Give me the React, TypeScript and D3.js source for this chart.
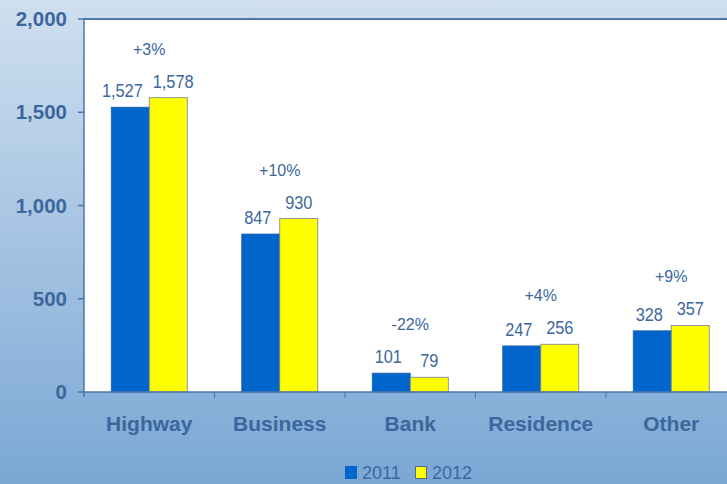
import React from "react";
import * as d3 from "d3";

const categories = ["Highway", "Business", "Bank", "Residence", "Other"];
const series2011 = [1527, 847, 101, 247, 328];
const series2012 = [1578, 930, 79, 256, 357];
const changeLabels = ["+3%", "+10%", "-22%", "+4%", "+9%"];
const yTicks = [0, 500, 1000, 1500, 2000];
const seriesNames = ["2011", "2012"];

const W = 727;
const H = 484;
const left = 84;
const top = 19;
const bottom = 392;
const plotRight = 736.5;

const textColor = "#3c679c";
const axisColor = "#4a76ad";
const blue = "#0066cc";
const yellow = "#ffff00";

const valFont = 19;
const valScaleX = 0.86;
// approx width of a value label (Liberation Sans metrics, condensed)
function labelWidth(s: string) {
  let w = 0;
  for (const ch of s) w += ch === "," ? 0.278 : 0.556;
  return w * valFont * valScaleX;
}

export default function App() {
  const x = d3.scaleBand<string>().domain(categories).range([left, plotRight]).paddingInner(0).paddingOuter(0);
  const y = d3.scaleLinear().domain([0, 2000]).range([bottom, top]);
  const barW = 38;
  const fmt = d3.format(",");

  return (
    <svg
      width={W}
      height={H}
      style={{ position: "fixed", left: 0, top: 0, display: "block" }}
      fontFamily="'Liberation Sans', Arial, sans-serif"
    >
      <defs>
        <linearGradient id="bg" x1="0" y1="0" x2="0" y2="1">
          <stop offset="0" stopColor="#cfdfef" />
          <stop offset="1" stopColor="#7ba7d5" />
        </linearGradient>
      </defs>
      <rect x={0} y={0} width={W} height={H} fill="url(#bg)" />
      <rect x={left} y={top} width={plotRight - left} height={bottom - top} fill="#ffffff" />
      <line x1={left} x2={W} y1={top} y2={top} stroke={axisColor} strokeWidth={2} />

      {categories.map((c, i) => {
        const cx = (x(c) as number) + x.bandwidth() / 2;
        const v1 = series2011[i];
        const v2 = series2012[i];
        const x1 = cx - barW;
        const x2 = cx;
        const maxTop = Math.min(y(v1), y(v2));
        const s1 = fmt(v1);
        const s2 = fmt(v2);
        let c1 = x1 + barW / 2 - 3;
        let c2 = x2 + barW / 2;
        const need = (labelWidth(s1) + labelWidth(s2)) / 2 + 10;
        if (c2 - c1 < need) {
          const d = (need - (c2 - c1)) / 2;
          c1 -= d;
          c2 += d;
        }
        return (
          <g key={c}>
            <rect x={x1} y={y(v1)} width={barW} height={bottom - y(v1)} fill={blue} stroke="#1f5fa8" strokeWidth={0.8} />
            <rect x={x2} y={y(v2)} width={barW} height={bottom - y(v2)} fill={yellow} stroke="#6f7f95" strokeWidth={0.8} />
            <text
              transform={`translate(${c1},${y(v1) - 10}) scale(${valScaleX},1)`}
              textAnchor="middle"
              fontSize={valFont}
              fill={textColor}
            >
              {s1}
            </text>
            <text
              transform={`translate(${c2},${y(v2) - 10}) scale(${valScaleX},1)`}
              textAnchor="middle"
              fontSize={valFont}
              fill={textColor}
            >
              {s2}
            </text>
            <text x={cx} y={maxTop - 43} textAnchor="middle" fontSize={16} fill={textColor}>
              {changeLabels[i]}
            </text>
            <text x={cx} y={431} textAnchor="middle" fontSize={21} fontWeight="bold" fill={textColor}>
              {c}
            </text>
          </g>
        );
      })}

      {/* y axis */}
      <line x1={left} x2={left} y1={top} y2={bottom + 5} stroke={axisColor} strokeWidth={1.5} />
      {yTicks.map((t) => (
        <g key={t}>
          <line x1={left - 6} x2={left} y1={y(t)} y2={y(t)} stroke={axisColor} strokeWidth={1.5} />
          <text x={67} y={y(t) + 7} textAnchor="end" fontSize={20.5} fontWeight="bold" fill={textColor}>
            {fmt(t)}
          </text>
        </g>
      ))}
      {/* x axis */}
      <line x1={left} x2={W} y1={bottom} y2={bottom} stroke={axisColor} strokeWidth={1.5} />
      {categories.slice(1).map((c) => (
        <line key={c} x1={x(c) as number} x2={x(c) as number} y1={bottom} y2={bottom + 6} stroke={axisColor} strokeWidth={1} />
      ))}

      {/* legend */}
      <rect x={345} y={466} width={12} height={13} fill={blue} />
      <text x={362} y={479} fontSize={18} fill={textColor}>{seriesNames[0]}</text>
      <rect x={415.5} y={466.5} width={11} height={12} fill={yellow} stroke="#5a6a80" strokeWidth={1} />
      <text x={432} y={479} fontSize={18} fill={textColor}>{seriesNames[1]}</text>
    </svg>
  );
}
